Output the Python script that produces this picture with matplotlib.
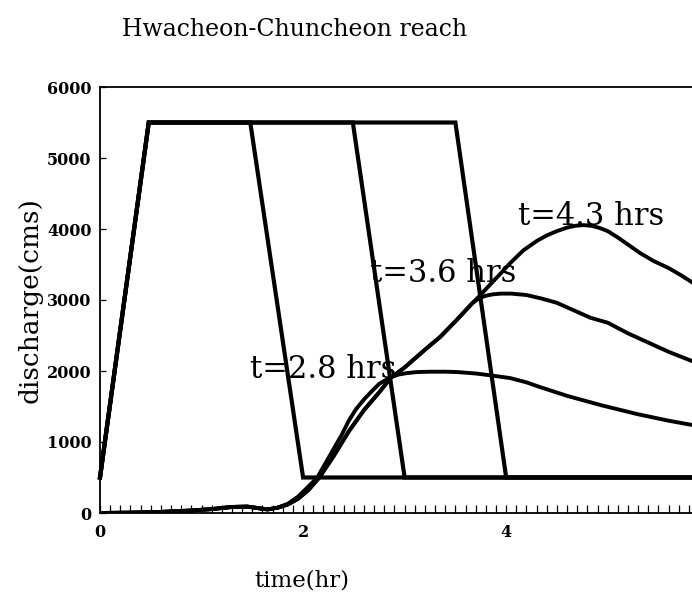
import matplotlib
matplotlib.use("Agg")
import matplotlib.pyplot as plt
from matplotlib.ticker import MultipleLocator, FixedLocator

# Inflow hydrographs (trapezoids)
inflow_t_a = [0.0, 0.48, 1.48, 2.0, 5.83]
inflow_t_b = [0.0, 0.48, 2.49, 3.0, 5.83]
inflow_t_c = [0.0, 0.48, 3.5, 4.0, 5.83]
inflow_q = [500, 5500, 5500, 500, 500]

# Outflow hydrographs
out1_t = [0, 0.3, 0.6, 0.9, 1.1, 1.3, 1.45, 1.55, 1.65, 1.75, 1.85, 1.95, 2.05, 2.14, 2.22, 2.3, 2.38, 2.45,
          2.52, 2.6, 2.68, 2.75, 2.86, 2.94, 3.02, 3.12, 3.25, 3.4, 3.52, 3.7, 3.84, 4.04, 4.2, 4.33, 4.6, 4.93,
          5.3, 5.6, 5.83]
out1_q = [0, 5, 15, 35, 55, 85, 90, 70, 50, 75, 130, 230, 370, 500, 700, 900, 1100, 1300,
          1460, 1600, 1720, 1820, 1910, 1950, 1970, 1985, 1990, 1990, 1985, 1965, 1940, 1900, 1840, 1775, 1650, 1520,
          1390, 1300, 1240]

out2_t = [0, 0.3, 0.6, 0.9, 1.1, 1.3, 1.45, 1.55, 1.65, 1.75, 1.85, 1.95, 2.05, 2.16, 2.3, 2.45,
          2.6, 2.75, 2.86, 3.0, 3.2, 3.35, 3.5, 3.67, 3.74, 3.8, 3.87, 3.95, 4.05, 4.2, 4.35, 4.5, 4.83,
          5.0, 5.2, 5.4, 5.6, 5.83]
out2_q = [0, 5, 15, 35, 55, 85, 90, 70, 50, 75, 120, 200, 320, 500, 800, 1150,
          1450, 1700, 1900, 2050, 2300, 2480, 2700, 2960, 3030, 3060, 3080, 3090, 3090, 3070, 3020, 2960, 2750,
          2680, 2530, 2400, 2270, 2140]

out3_t = [0, 0.3, 0.6, 0.9, 1.1, 1.3, 1.45, 1.55, 1.65, 1.75, 1.85, 1.95, 2.05, 2.16, 2.3, 2.45,
          2.6, 2.75, 2.86, 3.0, 3.2, 3.35, 3.5, 3.67, 3.74, 3.85, 3.95, 4.04, 4.17, 4.3, 4.4, 4.5, 4.6,
          4.68, 4.76, 4.84, 4.92, 5.0, 5.1, 5.2, 5.32, 5.45, 5.6, 5.72, 5.83]
out3_q = [0, 5, 15, 35, 55, 85, 90, 70, 50, 75, 120, 200, 320, 500, 800, 1150,
          1450, 1700, 1900, 2050, 2300, 2480, 2700, 2960, 3060, 3230, 3380, 3520, 3700, 3830, 3910, 3970, 4020,
          4045, 4055, 4045, 4015, 3970, 3880, 3780, 3660, 3550, 3450, 3350, 3250]

labels = ["t=2.8 hrs", "t=3.6 hrs", "t=4.3 hrs"]
label_pos = [(1.48, 2020), (2.66, 3380), (4.12, 4170)]

yticks = [0, 1000, 2000, 3000, 4000, 5000, 6000]
xticks = [0, 2, 4]

serif = ["DejaVu Serif"]

fig = plt.figure(figsize=(6.92, 5.98), dpi=100)
ax = fig.add_axes([100 / 692, 1 - 513 / 598, 1 - 100 / 692, (513 - 87) / 598])

lw = 3.0
for tt in (inflow_t_a, inflow_t_b, inflow_t_c):
    ax.plot(tt, inflow_q, color="black", lw=lw, solid_joinstyle="miter", clip_on=False)
ax.plot(out1_t, out1_q, color="black", lw=2.8, solid_joinstyle="round")
ax.plot(out2_t, out2_q, color="black", lw=2.8, solid_joinstyle="round")
ax.plot(out3_t, out3_q, color="black", lw=2.8, solid_joinstyle="round")

for lab, (x, y) in zip(labels, label_pos):
    ax.text(x, y, lab, fontsize=22, family=serif, ha="left", va="center")

ax.set_xlim(0, 5.83)
ax.set_ylim(0, 6000)
ax.spines["right"].set_visible(False)
for s in ("left", "top", "bottom"):
    ax.spines[s].set_linewidth(1.3)

ax.xaxis.set_major_locator(FixedLocator(xticks))
ax.xaxis.set_minor_locator(MultipleLocator(0.1))
ax.yaxis.set_major_locator(FixedLocator(yticks))
ax.tick_params(axis="x", which="both", direction="in", length=6, width=0.9, pad=8,
               top=False)
ax.tick_params(axis="y", which="major", direction="in", length=4, width=0.9, pad=6,
               right=False)
ax.set_xticklabels([str(v) for v in xticks], fontsize=11.5, fontweight="bold", family=serif)
ax.set_yticklabels([str(v) for v in yticks], fontsize=11.5, fontweight="bold", family=serif)

ax.set_xlabel("time(hr)", fontsize=16.5, family=serif)
ax.xaxis.set_label_coords((302 - 100) / 592, -(580 - 513) / 426)
ax.xaxis.label.set_va("center")
ax.set_ylabel("discharge(cms)", fontsize=19, family=serif)
ax.yaxis.set_label_coords(-(100 - 30) / 592, 0.5)
ax.yaxis.label.set_va("center")

fig.text(295 / 692, 1 - 30 / 598, "Hwacheon-Chuncheon reach", fontsize=17, family=serif,
         ha="center", va="center")

fig.savefig("out.png", dpi=100)
